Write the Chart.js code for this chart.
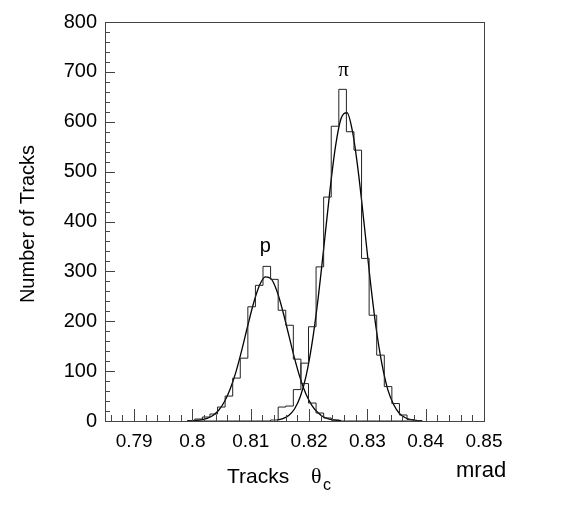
<!DOCTYPE html>
<html>
<head>
<meta charset="utf-8">
<script src="https://cdn.jsdelivr.net/npm/chart.js@4/dist/chart.umd.min.js"></script>
<style>
  html, body { margin: 0; padding: 0; background: #fff; }
  canvas { display: block; }
</style>
</head>
<body>
<canvas id="thetaChart" width="581" height="522"></canvas>
<script>
// histogram bin edges (lower edge of each bin, plus the last upper edge)
const binEdges = [0.7991, 0.8004, 0.8017, 0.8030, 0.8043, 0.8056, 0.8069, 0.8082,
  0.8095, 0.8108, 0.8121, 0.8134, 0.8147, 0.8160, 0.8173, 0.8186, 0.8199, 0.8212,
  0.8225, 0.8238, 0.8251, 0.8264, 0.8277, 0.8290, 0.8303, 0.8316, 0.8329, 0.8342,
  0.8355, 0.8368, 0.8381, 0.8394];

// counts per bin
const protonCounts = [1, 4, 8, 14, 28, 50, 86, 126, 229, 272, 310, 284, 222, 192, 124,
  75, 36, 16, 6, 2, 0, 0, 0, 0, 0, 0, 0, 0, 0, 0, 0];
const pionCounts = [0, 0, 0, 0, 0, 0, 0, 0, 0, 0, 0, 2, 28, 30, 63, 116, 189, 309,
  449, 591, 665, 580, 543, 326, 212, 132, 69, 35, 12, 3, 1];

// fitted curves
const protonFitX = [0.7995, 0.8005, 0.8015, 0.8025, 0.8035, 0.8045, 0.8055, 0.8065,
  0.8075, 0.8085, 0.8095, 0.8105, 0.8115, 0.8125, 0.8135, 0.8145, 0.8155, 0.8165,
  0.8175, 0.8185, 0.8195, 0.8205, 0.8215, 0.8225, 0.8235, 0.8245, 0.8255];
const protonFitY = [0.4, 1, 2.3, 5.3, 11, 21.5, 39, 65, 100, 144, 192, 237, 272, 289,
  285, 260, 220, 173, 126, 85, 53, 31, 17, 8, 4, 1.7, 0.7];
const pionFitX = [0.8145, 0.8155, 0.8165, 0.8175, 0.8185, 0.8195, 0.8205, 0.8215,
  0.8225, 0.8235, 0.8245, 0.8255, 0.8265, 0.8275, 0.8285, 0.8295, 0.8305, 0.8315,
  0.8325, 0.8335, 0.8345, 0.8355, 0.8365, 0.8375, 0.8385];
const pionFitY = [1.8, 4.6, 11, 24, 49, 91, 155, 241, 345, 454, 548, 607, 618, 577, 494,
  389, 281, 186, 114, 63, 33, 15, 6.6, 2.6, 1];

const xTicks = [0.79, 0.80, 0.81, 0.82, 0.83, 0.84, 0.85];
const xTickLabels = ['0.79', '0.8', '0.81', '0.82', '0.83', '0.84', '0.85'];
const yTicks = [0, 100, 200, 300, 400, 500, 600, 700, 800];

const font = 'Liberation Sans, Arial, Helvetica, sans-serif';

function histPoints(counts) {
  const pts = counts.map((c, i) => ({ x: binEdges[i], y: c }));
  pts.push({ x: binEdges[counts.length], y: counts[counts.length - 1] });
  return pts;
}

function fitPoints(xs, ys) {
  return xs.map((v, i) => ({ x: v, y: ys[i] }));
}

// frame, inward ticks and the text around the plot
const frameAndText = {
  id: 'frameAndText',
  afterDatasetsDraw(chart) {
    const { ctx, chartArea: a, scales: { x, y } } = chart;
    ctx.save();
    ctx.strokeStyle = '#444';
    ctx.lineWidth = 1;
    ctx.strokeRect(Math.round(a.left) + 0.5, Math.round(a.top) + 0.5,
      Math.round(a.right - a.left), Math.round(a.bottom - a.top));

    ctx.beginPath();
    for (let v = 0; v <= 800; v += 20) {
      const py = Math.round(y.getPixelForValue(v)) + 0.5;
      const len = v % 100 === 0 ? 10 : 5;
      ctx.moveTo(a.left, py);
      ctx.lineTo(a.left + len, py);
    }
    for (let k = 0; k <= 32; k++) {
      const v = 0.786 + k * 0.002;
      const major = Math.abs(v * 100 - Math.round(v * 100)) < 1e-6;
      const px = Math.round(x.getPixelForValue(v)) + 0.5;
      ctx.moveTo(px, a.bottom);
      ctx.lineTo(px, a.bottom - (major ? 12 : 6));
    }
    ctx.stroke();

    ctx.fillStyle = '#000';
    ctx.textBaseline = 'middle';
    ctx.textAlign = 'center';

    // peak labels
    ctx.font = '20px ' + font;
    ctx.fillText('p', x.getPixelForValue(0.8125), y.getPixelForValue(350));
    ctx.font = '21px Liberation Serif, serif';
    ctx.fillText('\u03C0', x.getPixelForValue(0.8259), y.getPixelForValue(702));

    // y title
    ctx.save();
    ctx.translate(28, 224);
    ctx.rotate(-Math.PI / 2);
    ctx.font = '20px ' + font;
    ctx.fillText('Number of Tracks', 0, 0);
    ctx.restore();

    // x title
    ctx.textAlign = 'left';
    ctx.font = '21px ' + font;
    ctx.fillText('Tracks', 227, 477);
    ctx.font = '22px Liberation Serif, serif';
    ctx.fillText('\u03B8', 311, 477);
    ctx.font = '16px ' + font;
    ctx.fillText('c', 323, 486);
    ctx.font = '22px ' + font;
    ctx.fillText('mrad', 456, 471);
    ctx.restore();
  }
};

const ctx = document.getElementById('thetaChart');
const thetaChart = new Chart(ctx, {
  type: 'line',
  data: {
    datasets: [
      { data: histPoints(protonCounts), stepped: true, borderColor: '#222', borderWidth: 1 },
      { data: histPoints(pionCounts), stepped: true, borderColor: '#222', borderWidth: 1 },
      { data: fitPoints(protonFitX, protonFitY), borderColor: '#000', borderWidth: 1.3,
        cubicInterpolationMode: 'monotone' },
      { data: fitPoints(pionFitX, pionFitY), borderColor: '#000', borderWidth: 1.3,
        cubicInterpolationMode: 'monotone' }
    ]
  },
  options: {
    responsive: false,
    animation: false,
    devicePixelRatio: 1,
    layout: { padding: { left: 0, top: 22, right: 97, bottom: 0 } },
    elements: { point: { radius: 0 }, line: { fill: false } },
    plugins: { legend: { display: false }, tooltip: { enabled: false } },
    scales: {
      x: {
        type: 'linear',
        min: 0.785,
        max: 0.85,
        afterBuildTicks: (scale) => { scale.ticks = xTicks.map(v => ({ value: v })); },
        afterFit: (scale) => { scale.height = 101; },
        grid: { display: false, drawTicks: false },
        border: { display: false },
        ticks: {
          padding: 9,
          color: '#000',
          font: { family: font, size: 19 },
          maxRotation: 0,
          autoSkip: false,
          callback: (v) => xTickLabels[xTicks.findIndex(t => Math.abs(t - v) < 1e-6)]
        }
      },
      y: {
        min: 0,
        max: 800,
        afterBuildTicks: (scale) => { scale.ticks = yTicks.map(v => ({ value: v })); },
        afterFit: (scale) => { scale.width = 105; },
        grid: { display: false, drawTicks: false },
        border: { display: false },
        ticks: {
          padding: 8,
          color: '#000',
          font: { family: font, size: 20 }
        }
      }
    }
  },
  plugins: [frameAndText]
});
</script>
</body>
</html>
